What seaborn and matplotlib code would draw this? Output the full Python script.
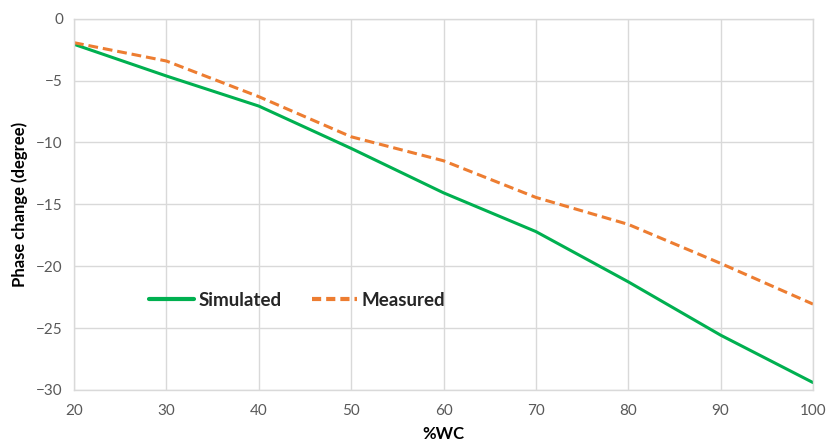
import matplotlib
matplotlib.use("Agg")
import matplotlib.pyplot as plt
import seaborn as sns
import pandas as pd

wc = [20, 30, 40, 50, 60, 70, 80, 90, 100]
simulated = [-2.07, -4.63, -7.06, -10.48, -14.07, -17.2, -21.26, -25.57, -29.4]
measured = [-1.94, -3.42, -6.3, -9.54, -11.48, -14.44, -16.62, -19.77, -23.06]
series_names = ["Simulated", "Measured"]
x_ticks = [20, 30, 40, 50, 60, 70, 80, 90, 100]
y_ticks = [0, -5, -10, -15, -20, -25, -30]

sns.set_theme(style="white")
plt.rcParams["font.family"] = ["Lato", "DejaVu Sans"]

df = pd.DataFrame({
    "wc": wc * 2,
    "val": simulated + measured,
    "series": [series_names[0]] * len(wc) + [series_names[1]] * len(wc),
})

fig = plt.figure(figsize=(8.3, 4.48), dpi=100)
ax = fig.add_axes([0.0892, 0.1295, 0.8903, 0.8288])

sns.lineplot(data=df, x="wc", y="val", hue="series", style="series",
             palette={"Simulated": "#00b050", "Measured": "#ed7d31"},
             dashes={"Simulated": "", "Measured": (3.2, 1.6)},
             linewidth=2.2, ax=ax, legend=False)

ax.set_xlim(20, 100)
ax.set_ylim(-30, 0)
ax.set_xticks(x_ticks)
ax.set_yticks(y_ticks)
ax.grid(True, color="#d9d9d9", linewidth=1.0)
ax.set_axisbelow(True)
for sp in ax.spines.values():
    sp.set_color("#d9d9d9")
    sp.set_linewidth(1.0)
ax.tick_params(axis="both", length=0, labelsize=11, colors="#595959")
ax.tick_params(axis="x", pad=10)
ax.tick_params(axis="y", pad=8)
ax.set_xlabel("%WC", fontsize=12, fontweight="bold", color="black", labelpad=6)
ax.set_ylabel("Phase change (degree)", fontsize=12, fontweight="bold", color="black", labelpad=6)

from matplotlib.lines import Line2D
handles = [
    Line2D([], [], color="#00b050", linewidth=3),
    Line2D([], [], color="#ed7d31", linewidth=3, linestyle=(0, (2.2, 1.2))),
]
leg = ax.legend(handles, series_names, loc="center", bbox_to_anchor=(0.302, 0.242),
                ncol=2, frameon=False, handlelength=2.4, handletextpad=0.25,
                columnspacing=1.6, prop={"weight": "bold", "size": 13.5})

fig.savefig("out.png", dpi=100)
